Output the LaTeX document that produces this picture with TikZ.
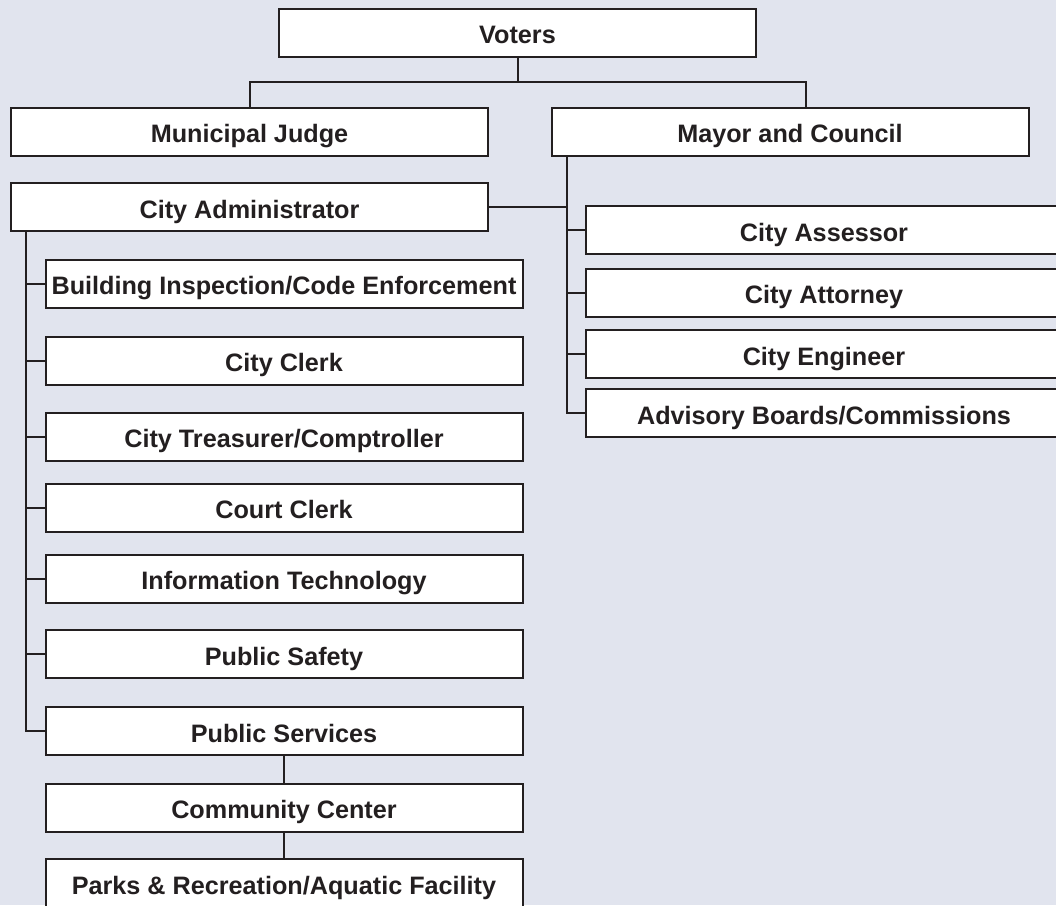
\documentclass[tikz,border=0pt]{standalone}
\usepackage{fontspec}
\setmainfont{Liberation Sans}
\usetikzlibrary{calc}
\definecolor{bg}{RGB}{225,228,238}
\definecolor{ink}{RGB}{35,31,32}
\begin{document}
\begin{tikzpicture}[x=1pt,y=-1pt,
  box/.style={draw=ink,fill=white,line width=2pt,minimum width=477pt,minimum height=48pt,inner sep=0pt,
    text height=22pt,text depth=0pt,
    text=ink,font=\fontsize{25.2}{30}\selectfont\bfseries},
  conn/.style={draw=ink,line width=2pt}]
\fill[bg] (0,0) rectangle (1056,905);
\useasboundingbox (0,0) rectangle (1056,905);
% top
\node[box] (voters) at (517.5,32.5) {Voters};
\node[box] (judge) at (249.5,131.5) {Municipal Judge};
\node[box] (mayor) at (790,131.5) {Mayor and Council};
\node[box] (admin) at (249.5,207) {City Administrator};
% right column
\node[box] (assessor) at (824,230) {City Assessor};
\node[box] (attorney) at (824,292.5) {City Attorney};
\node[box] (engineer) at (824,354) {City Engineer};
\node[box] (advisory) at (824,413) {Advisory Boards/Commissions};
% left column
\node[box] (building) at (284,283.5) {Building Inspection/Code Enforcement};
\node[box] (clerk) at (284,360.5) {City Clerk};
\node[box] (treasurer) at (284,436.5) {City Treasurer/Comptroller};
\node[box] (court) at (284,507.5) {Court Clerk};
\node[box] (it) at (284,578.5) {Information Technology};
\node[box] (safety) at (284,654) {Public Safety};
\node[box] (pserv) at (284,731) {Public Services};
\node[box] (cc) at (284,807.5) {Community Center};
\node[box] (parks) at (284,883) {Parks \& Recreation/Aquatic Facility};
% connectors
\coordinate (vbar) at ($(voters.south)+(0,24)$);
\draw[conn] (voters.south) -- (vbar);
\draw[conn] (judge.north) |- (vbar) -| ([xshift=16pt]mayor.north);
\coordinate (ms) at ([xshift=16pt]mayor.south west);
\draw[conn] (ms) |- (advisory.west);
\foreach \n in {assessor,attorney,engineer}{\draw[conn] (\n.west) -- (\n.west -| ms);}
\draw[conn] (admin.east) -- (admin.east -| ms);
\coordinate (as) at ([xshift=16pt]admin.south west);
\draw[conn] (as) |- (pserv.west);
\foreach \n in {building,clerk,treasurer,court,it,safety}{\draw[conn] (\n.west) -- (\n.west -| as);}
\draw[conn] (pserv.south) -- (cc.north);
\draw[conn] (cc.south) -- (parks.north);
\end{tikzpicture}
\end{document}
